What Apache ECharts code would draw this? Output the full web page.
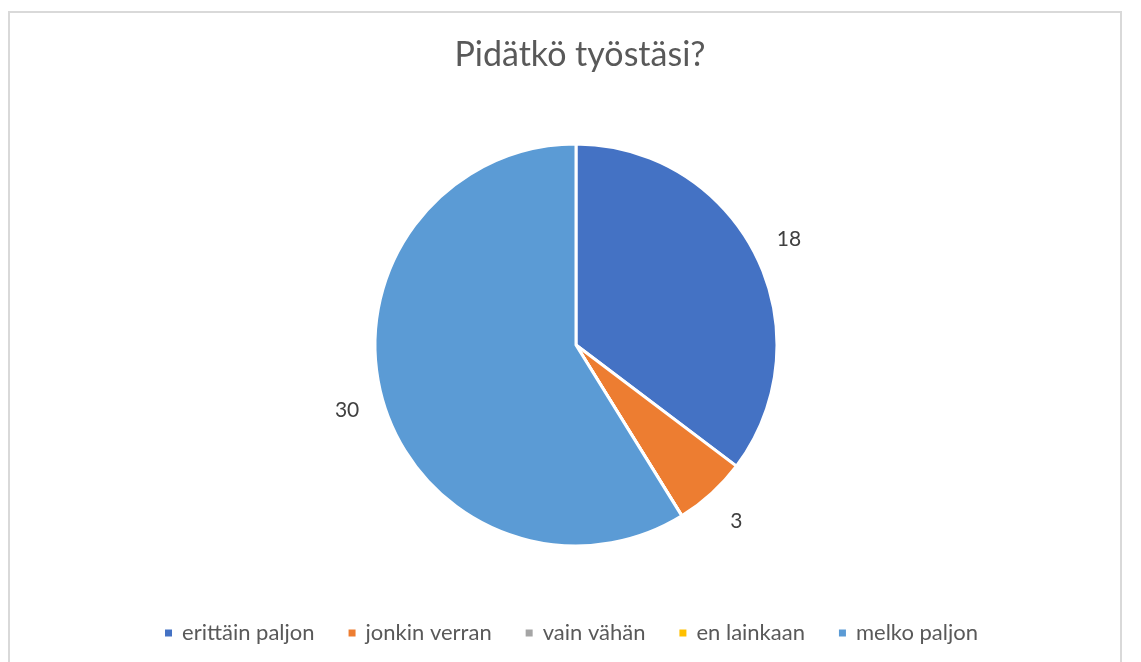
<!DOCTYPE html>
<html>
<head>
<meta charset="utf-8">
<script src="https://cdn.jsdelivr.net/npm/echarts@6/dist/echarts.min.js"></script>
<style>
  html, body { margin: 0; padding: 0; background: #ffffff; }
  #chart { width: 1141px; height: 662px; }
</style>
</head>
<body>
<div id="chart"></div>
<script>
// Survey answers: "Pidätkö työstäsi?"
const titleText = 'Pidätkö työstäsi?';
const categories = ['erittäin paljon', 'jonkin verran', 'vain vähän', 'en lainkaan', 'melko paljon'];
const counts = [18, 3, 0, 0, 30];
const colors = ['#4472C4', '#ED7D31', '#A5A5A5', '#FFC000', '#5B9BD5'];

const FONT = 'Lato';
const center = [576, 345];
const pieData = categories.map((name, i) => ({ name, value: counts[i] }));

const chart = echarts.init(document.getElementById('chart'), null, { renderer: 'canvas' });
chart.setOption({
  animation: false,
  color: colors,
  graphic: [{
    type: 'rect',
    shape: { x: 9, y: 12, width: 1112, height: 700 },
    style: { fill: 'none', stroke: '#d9d9d9', lineWidth: 2 },
    silent: true,
    z: -1
  }],
  title: {
    text: titleText,
    left: 575,
    textAlign: 'center',
    top: 33,
    textStyle: { fontFamily: FONT, fontSize: 34, fontWeight: 'normal', color: '#595959' }
  },
  legend: {
    data: categories,
    left: 'center',
    top: 617,
    icon: 'rect',
    itemWidth: 9,
    itemHeight: 9,
    itemGap: 32,
    textStyle: { fontFamily: FONT, fontSize: 22, color: '#595959', padding: [0, 0, 0, 4] }
  },
  series: [
    {
      name: 'vastaukset',
      type: 'pie',
      center: center,
      radius: [0, 201],
      startAngle: 90,
      clockwise: true,
      silent: true,
      itemStyle: { borderColor: '#ffffff', borderWidth: 3 },
      label: { show: false },
      labelLine: { show: false },
      data: pieData
    },
    {
      // transparent ring that only carries the value labels outside the pie
      name: 'arvot',
      type: 'pie',
      center: center,
      radius: [225, 245],
      startAngle: 90,
      clockwise: true,
      silent: true,
      itemStyle: { color: 'rgba(0,0,0,0)', borderWidth: 0 },
      label: {
        show: true,
        position: 'inside',
        formatter: p => (p.value > 0 ? String(p.value) : ''),
        fontFamily: FONT,
        fontSize: 21,
        color: '#404040'
      },
      labelLine: { show: false },
      data: pieData
    }
  ]
});
</script>
</body>
</html>
